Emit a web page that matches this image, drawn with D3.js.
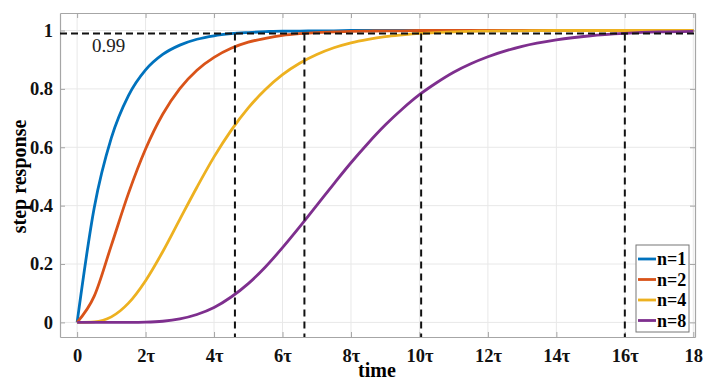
<!DOCTYPE html>
<html>
<head>
<meta charset="utf-8">
<script src="https://cdn.jsdelivr.net/npm/d3@7"></script>
<style>
  body { margin: 0; background: #fff; }
  svg, svg text { font-family: 'Liberation Serif', 'Times New Roman', serif; }
</style>
</head>
<body>
<div id="chart"></div>
<script>
// time samples (in units of tau)
const times = [0, 0.5, 1, 1.5, 2, 2.5, 3, 3.5, 4, 4.5, 5, 5.5, 6, 6.5, 7, 7.5, 8, 8.5, 9, 9.5, 10, 10.5, 11, 11.5, 12, 13, 14, 15, 16, 17, 18];

const n1 = [0, 0.393, 0.632, 0.777, 0.865, 0.918, 0.950, 0.970, 0.982, 0.989, 0.993, 0.996, 0.998, 0.998, 0.999, 0.999, 1, 1, 1, 1, 1, 1, 1, 1, 1, 1, 1, 1, 1, 1, 1];
const n2 = [0, 0.090, 0.264, 0.442, 0.594, 0.713, 0.801, 0.864, 0.908, 0.939, 0.960, 0.973, 0.983, 0.989, 0.993, 0.995, 0.997, 0.998, 0.999, 0.999, 1, 1, 1, 1, 1, 1, 1, 1, 1, 1, 1];
const n4 = [0, 0.002, 0.019, 0.066, 0.143, 0.242, 0.353, 0.463, 0.567, 0.658, 0.735, 0.798, 0.849, 0.888, 0.918, 0.941, 0.958, 0.970, 0.979, 0.985, 0.990, 0.993, 0.995, 0.997, 0.998, 0.999, 1, 1, 1, 1, 1];
const n8 = [0, 0, 0, 0.0002, 0.001, 0.004, 0.012, 0.027, 0.051, 0.087, 0.133, 0.190, 0.256, 0.327, 0.401, 0.475, 0.547, 0.614, 0.676, 0.731, 0.780, 0.821, 0.857, 0.886, 0.910, 0.946, 0.968, 0.982, 0.990, 0.995, 0.997];

const seriesNames = ["n=1", "n=2", "n=4", "n=8"];
const seriesValues = [n1, n2, n4, n8];
const colors = ["#0072BD", "#D95319", "#EDB120", "#7E2F8E"];

// times where each response reaches 0.99
const settleTimes = [4.61, 6.64, 10.05, 16.0];
const threshold = 0.99;

const xTicks = [0, 2, 4, 6, 8, 10, 12, 14, 16, 18];
const xTickLabels = ["0", "2τ", "4τ", "6τ", "8τ", "10τ", "12τ", "14τ", "16τ", "18"];
const yTicks = [0, 0.2, 0.4, 0.6, 0.8, 1];

const width = 705, height = 385;
const margin = { left: 60, right: 10, top: 13, bottom: 48 };
const serif = "'Liberation Serif', 'Times New Roman', serif";

const svg = d3.select("#chart").append("svg")
    .attr("width", width)
    .attr("height", height)
    .attr("font-family", serif);

const x = d3.scaleLinear().domain([-0.5, 18.05]).range([margin.left, width - margin.right]);
const y = d3.scaleLinear().domain([-0.05, 1.06]).range([height - margin.bottom, margin.top]);

// grid
svg.append("g").selectAll("line").data(xTicks).enter().append("line")
    .attr("x1", d => x(d)).attr("x2", d => x(d))
    .attr("y1", y.range()[0]).attr("y2", y.range()[1])
    .attr("stroke", "#e8e8e8").attr("stroke-width", 1);
svg.append("g").selectAll("line").data(yTicks).enter().append("line")
    .attr("y1", d => y(d)).attr("y2", d => y(d))
    .attr("x1", x.range()[0]).attr("x2", x.range()[1])
    .attr("stroke", "#e8e8e8").attr("stroke-width", 1);

// axes (ticks pointing inwards, box on)
const axisColor = "#a6a6a6";
const bottomAxis = svg.append("g")
    .attr("transform", `translate(0,${y.range()[0]})`)
    .call(d3.axisBottom(x).tickValues(xTicks).tickFormat((d, i) => xTickLabels[i]).tickSizeInner(-5).tickSizeOuter(0).tickPadding(12));
const topAxis = svg.append("g")
    .attr("transform", `translate(0,${y.range()[1]})`)
    .call(d3.axisTop(x).tickValues(xTicks).tickFormat("").tickSizeInner(-5).tickSizeOuter(0));
const leftAxis = svg.append("g")
    .attr("transform", `translate(${x.range()[0]},0)`)
    .call(d3.axisLeft(y).tickValues(yTicks).tickFormat(d3.format("~g")).tickSizeInner(-5).tickSizeOuter(0).tickPadding(7));
const rightAxis = svg.append("g")
    .attr("transform", `translate(${x.range()[1]},0)`)
    .call(d3.axisRight(y).tickValues(yTicks).tickFormat("").tickSizeInner(-5).tickSizeOuter(0));

[bottomAxis, topAxis, leftAxis, rightAxis].forEach(a => {
    a.attr("font-family", serif).attr("font-size", 18.5).attr("font-weight", "bold");
    a.select(".domain").attr("stroke", axisColor).attr("stroke-width", 1.2);
    a.selectAll(".tick line").attr("stroke", axisColor);
    a.selectAll("text").attr("fill", "#111");
});

// curves
const line = d3.line()
    .x((d, i) => x(times[i]))
    .y(d => y(d))
    .curve(d3.curveMonotoneX);

svg.append("g").selectAll("path").data(seriesValues).enter().append("path")
    .attr("d", d => line(d))
    .attr("fill", "none")
    .attr("stroke", (d, i) => colors[i])
    .attr("stroke-width", 2.8);

// dashed guides
svg.append("line")
    .attr("x1", x.range()[0]).attr("x2", x.range()[1])
    .attr("y1", y(threshold)).attr("y2", y(threshold))
    .attr("stroke", "#111").attr("stroke-width", 2)
    .attr("stroke-dasharray", "7,4");

svg.append("g").selectAll("line").data(settleTimes).enter().append("line")
    .attr("x1", d => x(d)).attr("x2", d => x(d))
    .attr("y1", y(threshold)).attr("y2", y.range()[0])
    .attr("stroke", "#111").attr("stroke-width", 2)
    .attr("stroke-dasharray", "7,5");

svg.append("text")
    .attr("x", 92).attr("y", y(threshold) + 19)
    .attr("fill", "#222")
    .attr("font-size", 19)
    .text("0.99");

// axis labels
svg.append("text")
    .attr("x", 377).attr("y", 377)
    .attr("text-anchor", "middle")
    .attr("font-size", 20).attr("font-weight", "bold")
    .text("time");

svg.append("text")
    .attr("transform", `translate(26,${y(0.5)}) rotate(-90)`)
    .attr("text-anchor", "middle")
    .attr("font-size", 20).attr("font-weight", "bold")
    .text("step response");

// legend
const legend = svg.append("g")
    .attr("transform", `translate(636,245)`);

legend.append("rect")
    .attr("width", 53).attr("height", 87)
    .attr("fill", "#fff")
    .attr("stroke", "#777").attr("stroke-width", 1);

const items = legend.selectAll("g").data(seriesNames).enter().append("g")
    .attr("transform", (d, i) => `translate(0,${14 + i * 20.5})`);
items.append("line")
    .attr("x1", 2).attr("x2", 20)
    .attr("stroke", (d, i) => colors[i])
    .attr("stroke-width", 2.8);
items.append("text")
    .attr("x", 21).attr("y", 6)
    .attr("font-size", 18).attr("font-weight", "bold")
    .text(d => d);
</script>
</body>
</html>
